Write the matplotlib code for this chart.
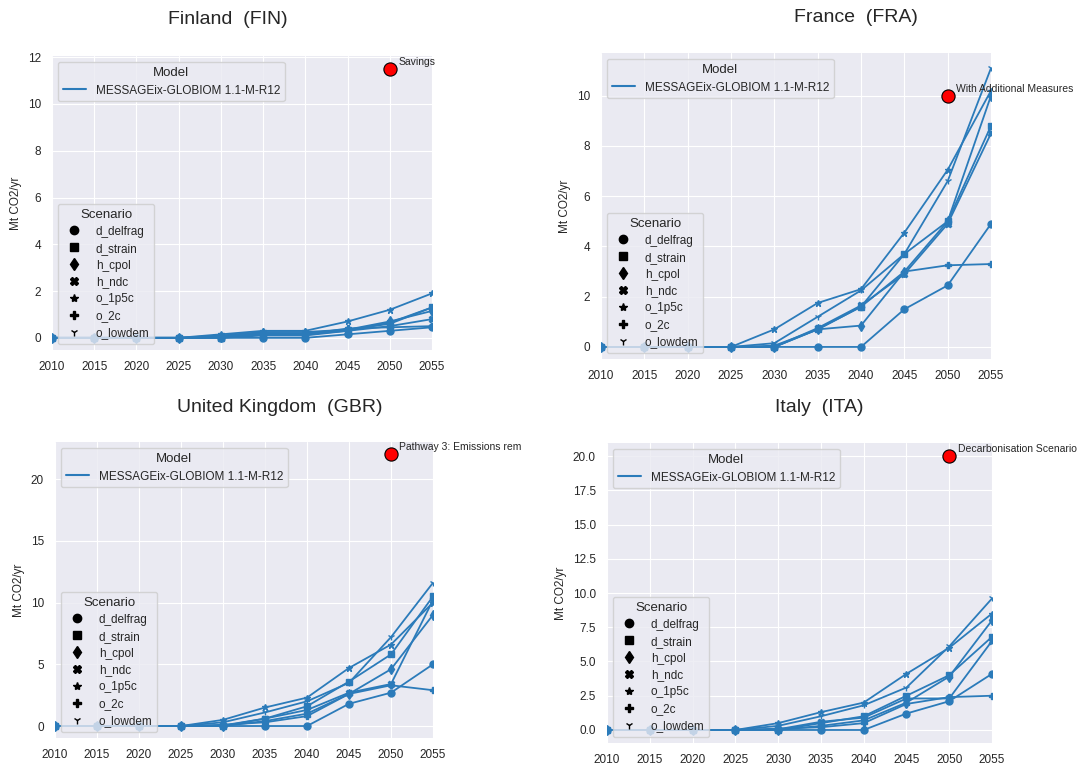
import matplotlib.pyplot as plt
from matplotlib.lines import Line2D
from matplotlib.transforms import Bbox, TransformedBbox

plt.style.use('seaborn-v0_8-darkgrid')
plt.rcParams['font.family'] = ['Liberation Sans', 'DejaVu Sans']

years = [2010, 2015, 2020, 2025, 2030, 2035, 2040, 2045, 2050, 2055]
scenarios = ['d_delfrag', 'd_strain', 'h_cpol', 'h_ndc', 'o_1p5c', 'o_2c', 'o_lowdem']
markers = ['o', 's', 'd', 'X', '*', 'P', '1']
model = 'MESSAGEix-GLOBIOM 1.1-M-R12'

# one row per scenario, same order as above
fin_values = [
    [0, 0, 0, 0, 0, 0, 0, 0.15, 0.3, 0.45],
    [0, 0, 0, 0, 0, 0.15, 0.15, 0.3, 0.65, 1.3],
    [0, 0, 0, 0, 0.05, 0.2, 0.2, 0.35, 0.7, 1.15],
    [0, 0, 0, 0, 0, 0.1, 0.1, 0.3, 0.5, 0.8],
    [0, 0, 0, 0, 0.15, 0.3, 0.3, 0.7, 1.2, 1.9],
    [0, 0, 0, 0, 0.05, 0.2, 0.15, 0.4, 0.45, 0.5],
    [0, 0, 0, 0, 0.1, 0.25, 0.25, 0.35, 0.6, 1.3],
]
fra_values = [
    [0, 0, 0, 0, 0, 0, 0, 1.5, 2.45, 4.9],
    [0, 0, 0, 0, 0, 0.7, 1.6, 3.7, 5.0, 8.8],
    [0, 0, 0, 0, 0, 0.7, 0.85, 3.0, 5.0, 10.0],
    [0, 0, 0, 0, 0, 0.75, 1.65, 2.9, 4.9, 8.5],
    [0, 0, 0, 0, 0.7, 1.75, 2.3, 4.55, 7.05, 10.2],
    [0, 0, 0, 0, 0.05, 0.7, 1.6, 3.0, 3.25, 3.3],
    [0, 0, 0, 0, 0.15, 1.2, 2.25, 3.7, 6.6, 11.1],
]
gbr_values = [
    [0, 0, 0, 0, 0, 0, 0, 1.8, 2.7, 5.0],
    [0, 0, 0, 0, 0, 0.6, 1.6, 3.6, 5.8, 10.5],
    [0, 0, 0, 0, 0, 0.4, 1.0, 2.6, 4.6, 9.0],
    [0, 0, 0, 0, 0.05, 0.6, 1.3, 2.7, 3.4, 10.2],
    [0, 0, 0, 0, 0.5, 1.5, 2.3, 4.7, 6.6, 10.0],
    [0, 0, 0, 0, 0.1, 0.3, 0.8, 2.6, 3.3, 2.9],
    [0, 0, 0, 0, 0.3, 1.1, 2.0, 3.5, 7.2, 11.6],
]
ita_values = [
    [0, 0, 0, 0, 0, 0, 0, 1.2, 2.1, 4.1],
    [0, 0, 0, 0, 0, 0.5, 1.0, 2.5, 4.0, 6.8],
    [0, 0, 0, 0, 0, 0.3, 0.7, 2.0, 3.9, 8.0],
    [0, 0, 0, 0, 0.05, 0.6, 0.9, 2.3, 2.3, 6.5],
    [0, 0, 0, 0, 0.5, 1.3, 2.0, 4.1, 6.0, 8.5],
    [0, 0, 0, 0, 0.1, 0.2, 0.5, 1.9, 2.4, 2.5],
    [0, 0, 0, 0, 0.3, 1.0, 1.8, 3.1, 6.1, 9.6],
]

blue = '#2b7bba'
W, H = 1088, 765
fig = plt.figure(figsize=(W / 100, H / 100), dpi=100)
fig.patch.set_facecolor('white')


def px_rect(left, top, right, bottom):
    return [left / W, 1 - bottom / H, (right - left) / W, (bottom - top) / H]


def panel(rect, title, title_xy, values, ylim, yticks, target, target_label, clip_x):
    ax = fig.add_axes(px_rect(*rect))
    for vals, m in zip(values, markers):
        ax.plot(years, vals, color=blue, marker=m, ms=5, lw=1.3)
    ax.set_xlim(2010, 2055)
    ax.set_ylim(*ylim)
    ax.set_xticks(years)
    ax.set_yticks(yticks)
    ax.tick_params(labelsize=8.5, colors='.15')
    ax.tick_params(axis='x', pad=8)
    ax.tick_params(axis='y', pad=8)
    ax.set_ylabel('Mt CO2/yr', fontsize=8.5, color='.15')

    ax.plot([2050], [target], 'o', color='red', mec='black', mew=0.8, ms=9.5,
            zorder=6, clip_on=False)
    t = ax.annotate(target_label, (2050, target), xytext=(6, 3),
                    textcoords='offset points', fontsize=7.5,
                    annotation_clip=False)
    t.set_clip_box(TransformedBbox(Bbox.from_extents(0, 0, clip_x / W, 1),
                                   fig.transFigure))
    t.set_clip_on(True)

    h1 = [Line2D([], [], color=blue, lw=1.5)]
    leg1 = ax.legend(h1, [model], title='Model', loc='upper left',
                     fontsize=8.5, title_fontsize=9.5, frameon=True)
    ax.add_artist(leg1)
    h2 = [Line2D([], [], color='black', marker=m, ls='', ms=6) for m in markers]
    ax.legend(h2, scenarios, title='Scenario', loc='lower left',
              fontsize=8.5, title_fontsize=9.5, frameon=True,
              labelspacing=0.42)

    fig.text(title_xy[0] / W, 1 - title_xy[1] / H, title, fontsize=14,
             ha='center', va='center', color='.15')


panel((52, 56, 432, 350), 'Finland  (FIN)', (228, 20), fin_values,
      (-0.52, 12.05), range(0, 13, 2), 11.5, 'Savings', 540)
panel((601, 53, 991, 359), 'France  (FRA)', (856, 18), fra_values,
      (-0.48, 11.7), range(0, 11, 2), 10, 'With Additional Measures', W)
panel((55, 442, 433, 738), 'United Kingdom  (GBR)', (280, 407), gbr_values,
      (-0.97, 23), range(0, 21, 5), 22, 'Pathway 3: Emissions removals', 521)
panel((607, 443, 992, 743), 'Italy  (ITA)', (819, 408), ita_values,
      (-0.95, 20.95), [0, 2.5, 5, 7.5, 10, 12.5, 15, 17.5, 20], 20,
      'Decarbonisation Scenario', W)

fig.savefig('out.png', dpi=100)
